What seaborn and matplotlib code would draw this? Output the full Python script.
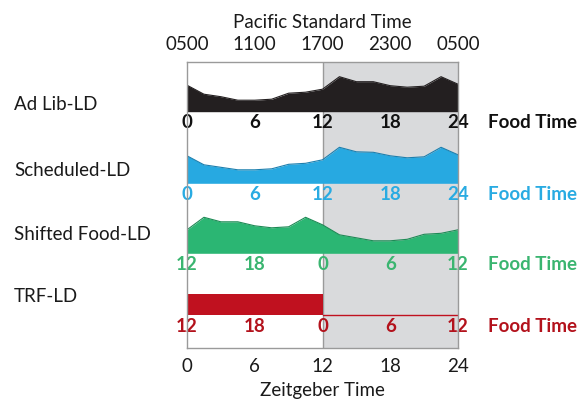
import matplotlib
matplotlib.use("Agg")
import matplotlib.pyplot as plt
import seaborn as sns
import numpy as np
import pandas as pd

# ---------------- data ----------------
hours = [0, 1.5, 3, 4.5, 6, 7.5, 9, 10.5, 12, 13.5, 15, 16.5, 18, 19.5, 21, 22.5, 24]
adlib = [0.53, 0.35, 0.30, 0.23, 0.23, 0.25, 0.37, 0.39, 0.45, 0.70, 0.60, 0.60, 0.52, 0.49, 0.51, 0.70, 0.55]
scheduled = [0.55, 0.37, 0.32, 0.27, 0.27, 0.29, 0.38, 0.40, 0.47, 0.72, 0.63, 0.62, 0.55, 0.51, 0.53, 0.72, 0.57]
shifted = [0.47, 0.72, 0.63, 0.63, 0.55, 0.51, 0.53, 0.72, 0.57, 0.37, 0.31, 0.25, 0.25, 0.28, 0.38, 0.40, 0.47]
trf_hours = [0, 12, 24]
trf_food = [1, 0, 0]

row_names = ["Ad Lib-LD", "Scheduled-LD", "Shifted Food-LD", "TRF-LD"]
zt_ticks = [0, 6, 12, 18, 24]
zt_labels = ["0", "6", "12", "18", "24"]
pst_labels = ["0500", "1100", "1700", "2300", "0500"]
food_labels = [
    ["0", "6", "12", "18", "24"],
    ["0", "6", "12", "18", "24"],
    ["12", "18", "0", "6", "12"],
    ["12", "18", "0", "6", "12"],
]
dark_start, dark_end = 12, 24

# ---------------- style ----------------
sns.set_theme(style="white")
plt.rcParams['font.family'] = ['Lato', 'DejaVu Sans']

fill_colors = ["#231f20", "#27a9e1", "#2bb673", "#c0111f"]
edge_colors = ["#231f20", "#1c7fae", "#1d8a55", "#c0111f"]
text_colors = ["#111111", "#29abe2", "#3ab570", "#b3121c"]
frame_col = "#9a9a9a"
gray_bg = "#d9dadc"
fs = 13.5

W, H = 579, 404
fig = plt.figure(figsize=(W / 100, H / 100), dpi=100)
box_l, box_r, box_t, box_b = 187, 458, 61.7, 348
ax = fig.add_axes([box_l / W, (H - box_b) / H, (box_r - box_l) / W, (box_b - box_t) / H])
ax.set_xlim(0, 24)
ax.set_ylim(0, box_b - box_t)

ax.axvspan(dark_start, dark_end, color=gray_bg, zorder=0, lw=0)
ax.axvline(dark_start, color=frame_col, lw=1.0, zorder=1)

# track layout (pixel-derived positions)
baselines = [box_b - 111.7, box_b - 183.3, box_b - 253.3, box_b - 315]
scale = 50
row_text_y = [box_b - 123, box_b - 194, box_b - 264, box_b - 327]
row_label_y = [104, 171, 235, 297]

profiles = [adlib, scheduled, shifted]
for i, prof in enumerate(profiles):
    base = baselines[i]
    yvals = base + scale * np.array(prof)
    ax.fill_between(hours, base, yvals, color=fill_colors[i], lw=0, zorder=2)
    df = pd.DataFrame({"h": hours, "y": yvals})
    sns.lineplot(data=df, x="h", y="y", color=edge_colors[i], lw=0.8, ax=ax, zorder=3)

# TRF: food availability step
base = baselines[3]
ty = base + 21 * np.array(trf_food)
ax.fill_between(trf_hours, base, ty, step="post", color=fill_colors[3], lw=0, zorder=2)
ax.plot([dark_start, dark_end], [base, base], color=fill_colors[3], lw=1.0, zorder=3)

# food time tick rows
for i in range(4):
    for h, lab in zip(zt_ticks, food_labels[i]):
        ax.text(h, row_text_y[i], lab, color=text_colors[i], fontsize=fs,
                fontweight="bold", ha="center", va="center", clip_on=False, zorder=4)
    fig.text(488 / W, 1 - (box_b - row_text_y[i]) / H, "Food Time",
             color=text_colors[i], fontsize=fs, fontweight="bold", ha="left", va="center")
    fig.text(14 / W, 1 - row_label_y[i] / H, row_names[i], color="#1a1a1a",
             fontsize=fs, ha="left", va="center")

# axes ticks
ax.set_ylabel("")
ax.set_yticks([])
ax.set_xticks(zt_ticks)
ax.set_xticklabels(zt_labels, fontsize=fs, color="#1a1a1a")
ax.tick_params(axis="x", length=0, pad=7)
ax.set_xlabel("Zeitgeber Time", fontsize=fs, color="#1a1a1a", labelpad=5)

top = ax.secondary_xaxis("top")
top.set_xticks(zt_ticks)
top.set_xticklabels(pst_labels, fontsize=fs, color="#1a1a1a")
top.tick_params(axis="x", length=0, pad=6)
top.set_xlabel("Pacific Standard Time", fontsize=fs, color="#1a1a1a", labelpad=6)
for s in top.spines.values():
    s.set_visible(False)

for s in ax.spines.values():
    s.set_color(frame_col)
    s.set_linewidth(1.0)
    s.set_zorder(5)

fig.savefig("out.png", dpi=100)
